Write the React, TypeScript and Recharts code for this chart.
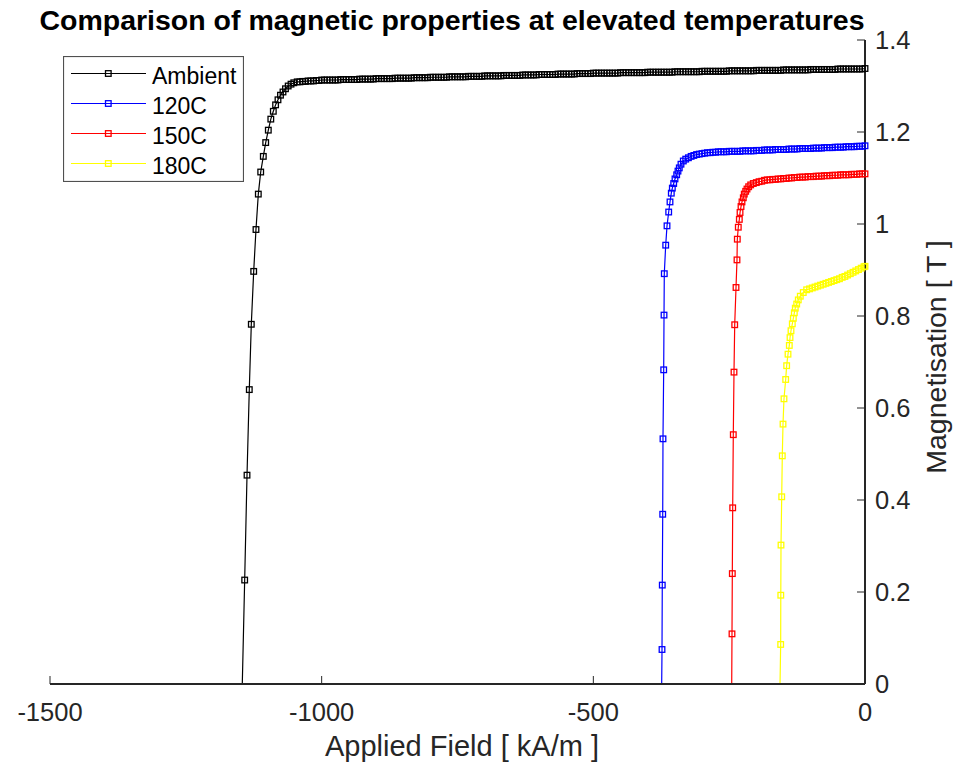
import React from 'react';
import { LineChart, Line, XAxis, YAxis, Legend } from 'recharts';

const FONT = "'Liberation Sans', Arial, Helvetica, sans-serif";
const AXIS = '#262626';

const fieldTicks = [-1500, -1000, -500, 0];
const magTicks = [0, 0.2, 0.4, 0.6, 0.8, 1, 1.2, 1.4];

const seriesNames = ['Ambient', '120C', '150C', '180C'];
const seriesColors = ['#000000', '#0000ff', '#ff0000', '#ffff00'];

// [applied field (kA/m), magnetisation (T)]
const ambient = [
  [-1146.1, 0], [-1141.7, 0.226], [-1137.4, 0.454], [-1133.2, 0.64], [-1129.5, 0.782],
  [-1125.1, 0.897], [-1120.9, 0.988], [-1116.6, 1.065], [-1112.2, 1.113], [-1107.4, 1.147],
  [-1103.0, 1.177], [-1098.2, 1.204], [-1093.6, 1.228], [-1089.0, 1.245], [-1084.8, 1.259],
  [-1080.4, 1.27], [-1075.8, 1.28], [-1071.2, 1.287], [-1066.6, 1.294], [-1061.6, 1.3],
  [-1056.4, 1.304], [-1051.3, 1.307],
  [-1045, 1.309], [-1040, 1.309], [-1035, 1.31], [-1030, 1.31], [-1025, 1.311], [-1020, 1.311],
  [-1015, 1.311], [-1010, 1.312], [-1005, 1.312],
  [-1000, 1.313], [-995, 1.313], [-990, 1.313], [-985, 1.313], [-980, 1.313], [-975, 1.313],
  [-970, 1.313], [-965, 1.314], [-960, 1.314], [-955, 1.314], [-950, 1.314], [-945, 1.314],
  [-940, 1.314], [-935, 1.314], [-930, 1.315], [-925, 1.315], [-920, 1.315], [-915, 1.315],
  [-910, 1.315], [-905, 1.315],
  [-900, 1.316], [-895, 1.316], [-890, 1.316], [-885, 1.316], [-880, 1.316], [-875, 1.316],
  [-870, 1.316], [-865, 1.317], [-860, 1.317], [-855, 1.317], [-850, 1.317], [-845, 1.317],
  [-840, 1.317], [-835, 1.317], [-830, 1.318], [-825, 1.318], [-820, 1.318], [-815, 1.318],
  [-810, 1.318], [-805, 1.318],
  [-800, 1.319], [-795, 1.319], [-790, 1.319], [-785, 1.319], [-780, 1.319], [-775, 1.319],
  [-770, 1.319], [-765, 1.32], [-760, 1.32], [-755, 1.32], [-750, 1.32], [-745, 1.32],
  [-740, 1.32], [-735, 1.32], [-730, 1.321], [-725, 1.321], [-720, 1.321], [-715, 1.321],
  [-710, 1.321], [-705, 1.321],
  [-700, 1.322], [-695, 1.322], [-690, 1.322], [-685, 1.322], [-680, 1.322], [-675, 1.322],
  [-670, 1.322], [-665, 1.323], [-660, 1.323], [-655, 1.323], [-650, 1.323], [-645, 1.323],
  [-640, 1.323], [-635, 1.323], [-630, 1.324], [-625, 1.324], [-620, 1.324], [-615, 1.324],
  [-610, 1.324], [-605, 1.324],
  [-600, 1.325], [-595, 1.325], [-590, 1.325], [-585, 1.325], [-580, 1.325], [-575, 1.325],
  [-570, 1.325], [-565, 1.326], [-560, 1.326], [-555, 1.326], [-550, 1.326], [-545, 1.326],
  [-540, 1.326], [-535, 1.326], [-530, 1.327], [-525, 1.327], [-520, 1.327], [-515, 1.327],
  [-510, 1.327], [-505, 1.327],
  [-500, 1.328], [-495, 1.328], [-490, 1.328], [-485, 1.328], [-480, 1.328], [-475, 1.328],
  [-470, 1.328], [-465, 1.328], [-460, 1.328], [-455, 1.328], [-450, 1.329], [-445, 1.329],
  [-440, 1.329], [-435, 1.329], [-430, 1.329], [-425, 1.329], [-420, 1.329], [-415, 1.329],
  [-410, 1.329], [-405, 1.329],
  [-400, 1.33], [-395, 1.33], [-390, 1.33], [-385, 1.33], [-380, 1.33], [-375, 1.33],
  [-370, 1.33], [-365, 1.33], [-360, 1.33], [-355, 1.33], [-350, 1.331], [-345, 1.331],
  [-340, 1.331], [-335, 1.331], [-330, 1.331], [-325, 1.331], [-320, 1.331], [-315, 1.331],
  [-310, 1.331], [-305, 1.331],
  [-300, 1.332], [-295, 1.332], [-290, 1.332], [-285, 1.332], [-280, 1.332], [-275, 1.332],
  [-270, 1.332], [-265, 1.332], [-260, 1.332], [-255, 1.332], [-250, 1.333], [-245, 1.333],
  [-240, 1.333], [-235, 1.333], [-230, 1.333], [-225, 1.333], [-220, 1.333], [-215, 1.333],
  [-210, 1.333], [-205, 1.333],
  [-200, 1.334], [-195, 1.334], [-190, 1.334], [-185, 1.334], [-180, 1.334], [-175, 1.334],
  [-170, 1.334], [-165, 1.334], [-160, 1.334], [-155, 1.334], [-150, 1.335], [-145, 1.335],
  [-140, 1.335], [-135, 1.335], [-130, 1.335], [-125, 1.335], [-120, 1.335], [-115, 1.335],
  [-110, 1.335], [-105, 1.335],
  [-100, 1.336], [-95, 1.336], [-90, 1.336], [-85, 1.336], [-80, 1.336], [-75, 1.336],
  [-70, 1.336], [-65, 1.336], [-60, 1.336], [-55, 1.336], [-50, 1.337], [-45, 1.337],
  [-40, 1.337], [-35, 1.337], [-30, 1.337], [-25, 1.337], [-20, 1.337], [-15, 1.337],
  [-10, 1.337], [-5, 1.337], [0, 1.338],
];

const t120 = [
  [-374.2, 0], [-373.6, 0.075], [-373.1, 0.215], [-372.3, 0.369], [-371.8, 0.533],
  [-370.5, 0.683], [-369.9, 0.802], [-369.4, 0.892], [-366.8, 0.954], [-364.4, 0.996],
  [-361.3, 1.026], [-358.9, 1.048], [-356.5, 1.067], [-354.6, 1.078], [-352.1, 1.088],
  [-349.7, 1.098], [-346.6, 1.107], [-344.2, 1.115], [-341.8, 1.122], [-338.7, 1.13],
  [-334.4, 1.137],
  [-330, 1.141], [-325, 1.144], [-320, 1.147], [-315, 1.149], [-310, 1.151], [-305, 1.152],
  [-300, 1.153], [-295, 1.154], [-290, 1.155], [-285, 1.155], [-280, 1.156], [-275, 1.156],
  [-270, 1.157], [-265, 1.157], [-260, 1.157], [-255, 1.157], [-250, 1.158], [-245, 1.158],
  [-240, 1.158], [-235, 1.158], [-230, 1.158], [-225, 1.159], [-220, 1.159], [-215, 1.159],
  [-210, 1.159], [-205, 1.159], [-200, 1.16], [-195, 1.16], [-190, 1.16], [-185, 1.161],
  [-180, 1.161], [-175, 1.161], [-170, 1.161], [-165, 1.162], [-160, 1.162], [-155, 1.162],
  [-150, 1.162], [-145, 1.162], [-140, 1.163], [-135, 1.163], [-130, 1.163], [-125, 1.163],
  [-120, 1.164], [-115, 1.164], [-110, 1.164], [-105, 1.164], [-100, 1.164], [-95, 1.165],
  [-90, 1.165], [-85, 1.165], [-80, 1.165], [-75, 1.166], [-70, 1.166], [-65, 1.166],
  [-60, 1.166], [-55, 1.167], [-50, 1.167], [-45, 1.167], [-40, 1.167], [-35, 1.168],
  [-30, 1.168], [-25, 1.168], [-20, 1.168], [-15, 1.169], [-10, 1.169], [-5, 1.169],
  [0, 1.17],
];

const t150 = [
  [-245.3, 0], [-244.8, 0.109], [-244.2, 0.24], [-243.5, 0.383], [-242.4, 0.542],
  [-241.1, 0.678], [-239.8, 0.781], [-237.4, 0.862], [-235.6, 0.922], [-235.0, 0.967],
  [-233.2, 0.993], [-231.3, 1.01], [-230.0, 1.025], [-228.2, 1.038], [-226.4, 1.048],
  [-224.0, 1.057], [-222.2, 1.065], [-219.6, 1.071], [-217.2, 1.076], [-214.1, 1.081],
  [-210.4, 1.085], [-205.6, 1.088],
  [-200, 1.09], [-195, 1.092], [-190, 1.093], [-185, 1.095], [-180, 1.096], [-175, 1.096],
  [-170, 1.097], [-165, 1.097], [-160, 1.098], [-155, 1.098], [-150, 1.099], [-145, 1.099],
  [-140, 1.1], [-135, 1.1], [-130, 1.101], [-125, 1.101], [-120, 1.102], [-115, 1.102],
  [-110, 1.102], [-105, 1.103], [-100, 1.103], [-95, 1.103], [-90, 1.104], [-85, 1.104],
  [-80, 1.104], [-75, 1.105], [-70, 1.105], [-65, 1.105], [-60, 1.106], [-55, 1.106],
  [-50, 1.106], [-45, 1.107], [-40, 1.107], [-35, 1.107], [-30, 1.107], [-25, 1.108],
  [-20, 1.108], [-15, 1.108], [-10, 1.109], [-5, 1.109], [0, 1.109],
];

const t180 = [
  [-156.4, 0], [-155.2, 0.086], [-155.0, 0.193], [-154.6, 0.302], [-153.3, 0.407],
  [-152.2, 0.496], [-150.9, 0.565], [-149.1, 0.62], [-146.0, 0.662], [-144.2, 0.692],
  [-141.7, 0.717], [-139.3, 0.736], [-138.0, 0.753], [-136.2, 0.768], [-133.8, 0.783],
  [-131.9, 0.795], [-130.1, 0.807], [-128.3, 0.817], [-125.7, 0.826], [-122.8, 0.835],
  [-119.1, 0.843], [-113.6, 0.851], [-107.4, 0.857],
  [-102, 0.859], [-97, 0.861], [-92, 0.863], [-87, 0.865], [-82, 0.867], [-77, 0.869],
  [-72, 0.871], [-67, 0.873], [-62, 0.875], [-57, 0.877], [-52, 0.879], [-47, 0.881],
  [-42, 0.884], [-37, 0.886], [-32, 0.889], [-27, 0.892], [-22, 0.895], [-17, 0.898],
  [-12, 0.901], [-7, 0.904], [-2, 0.907], [0, 0.908],
];

const seriesPoints = [ambient, t120, t150, t180];

const toRows = (pts: number[][]) => pts.map(([h, m]) => ({ h, m }));

// hollow square marker; the first point sits on the axis and has none
const square = (color: string) => (props: any) => {
  const { cx, cy, index } = props;
  if (index === 0 || cx == null || cy == null) return <g key={`m-${index}`} />;
  return (
    <rect
      key={`m-${index}`}
      x={cx - 2.8}
      y={cy - 2.8}
      width={5.6}
      height={5.6}
      fill="none"
      stroke={color}
      strokeWidth={1.3}
    />
  );
};

// drawn from the series arrays so the order matches the plot order
const LegendBox = () => (
  <svg width={181} height={126} style={{ display: 'block' }}>
    <rect x={0.5} y={0.5} width={180} height={125} fill="#fff" stroke="#505050" strokeWidth={1.2} />
    {seriesNames.map((name, i) => {
      const y = 17.5 + i * 30;
      return (
        <g key={name}>
          <line x1={8} x2={83} y1={y} y2={y} stroke={seriesColors[i]} strokeWidth={1.2} />
          <rect x={42.5} y={y - 2.8} width={5.6} height={5.6} fill="none" stroke={seriesColors[i]} strokeWidth={1.3} />
          <text x={89} y={y + 10} fontSize={23} fontFamily={FONT} fill="#000">
            {name}
          </text>
        </g>
      );
    })}
  </svg>
);

export default function App() {
  return (
    <div style={{ position: 'relative', width: 955, height: 766, background: '#fff' }}>
      <style>{'body{margin:0;background:#fff}'}</style>
      <LineChart width={955} height={766} margin={{ top: 40, right: 30, left: 50, bottom: 22 }}>
        <XAxis
          type="number"
          dataKey="h"
          domain={[-1500, 0]}
          ticks={fieldTicks}
          interval={0}
          height={60}
          axisLine={{ stroke: AXIS, strokeWidth: 2 }}
          tickLine={{ stroke: AXIS, strokeWidth: 1 }}
          tickSize={-8}
          tickMargin={27}
          tick={{ fill: AXIS, fontSize: 25.5, fontFamily: FONT }}
        />
        <YAxis
          orientation="right"
          type="number"
          domain={[0, 1.4]}
          ticks={magTicks}
          interval={0}
          width={60}
          axisLine={{ stroke: AXIS, strokeWidth: 2 }}
          tickLine={{ stroke: AXIS, strokeWidth: 1 }}
          tickSize={-8}
          tickMargin={18}
          tick={{ fill: AXIS, fontSize: 25.5, fontFamily: FONT }}
        />
        <Legend
          layout="vertical"
          align="center"
          verticalAlign="middle"
          content={<LegendBox />}
          wrapperStyle={{ left: 63, top: 56, width: 181, height: 126 }}
        />
        {seriesPoints.map((pts, i) => (
          <Line
            key={seriesNames[i]}
            name={seriesNames[i]}
            data={toRows(pts)}
            dataKey="m"
            type="linear"
            stroke={seriesColors[i]}
            strokeWidth={1.2}
            dot={square(seriesColors[i])}
            activeDot={false}
            isAnimationActive={false}
          />
        ))}
      </LineChart>
      <svg
        width={955}
        height={766}
        style={{ position: 'absolute', left: 0, top: 0, pointerEvents: 'none' }}
      >
        <text x={452} y={30} textAnchor="middle" fontSize={28.5} fontWeight="bold" fontFamily={FONT} fill="#000">
          Comparison of magnetic properties at elevated temperatures
        </text>
        <text x={462} y={756} textAnchor="middle" fontSize={29} fontFamily={FONT} fill={AXIS}>
          Applied Field [ kA/m ]
        </text>
        <text
          x={946}
          y={357}
          textAnchor="middle"
          fontSize={28.5}
          fontFamily={FONT}
          fill={AXIS}
          transform="rotate(-90 946 357)"
        >
          Magnetisation [ T ]
        </text>
      </svg>
    </div>
  );
}
